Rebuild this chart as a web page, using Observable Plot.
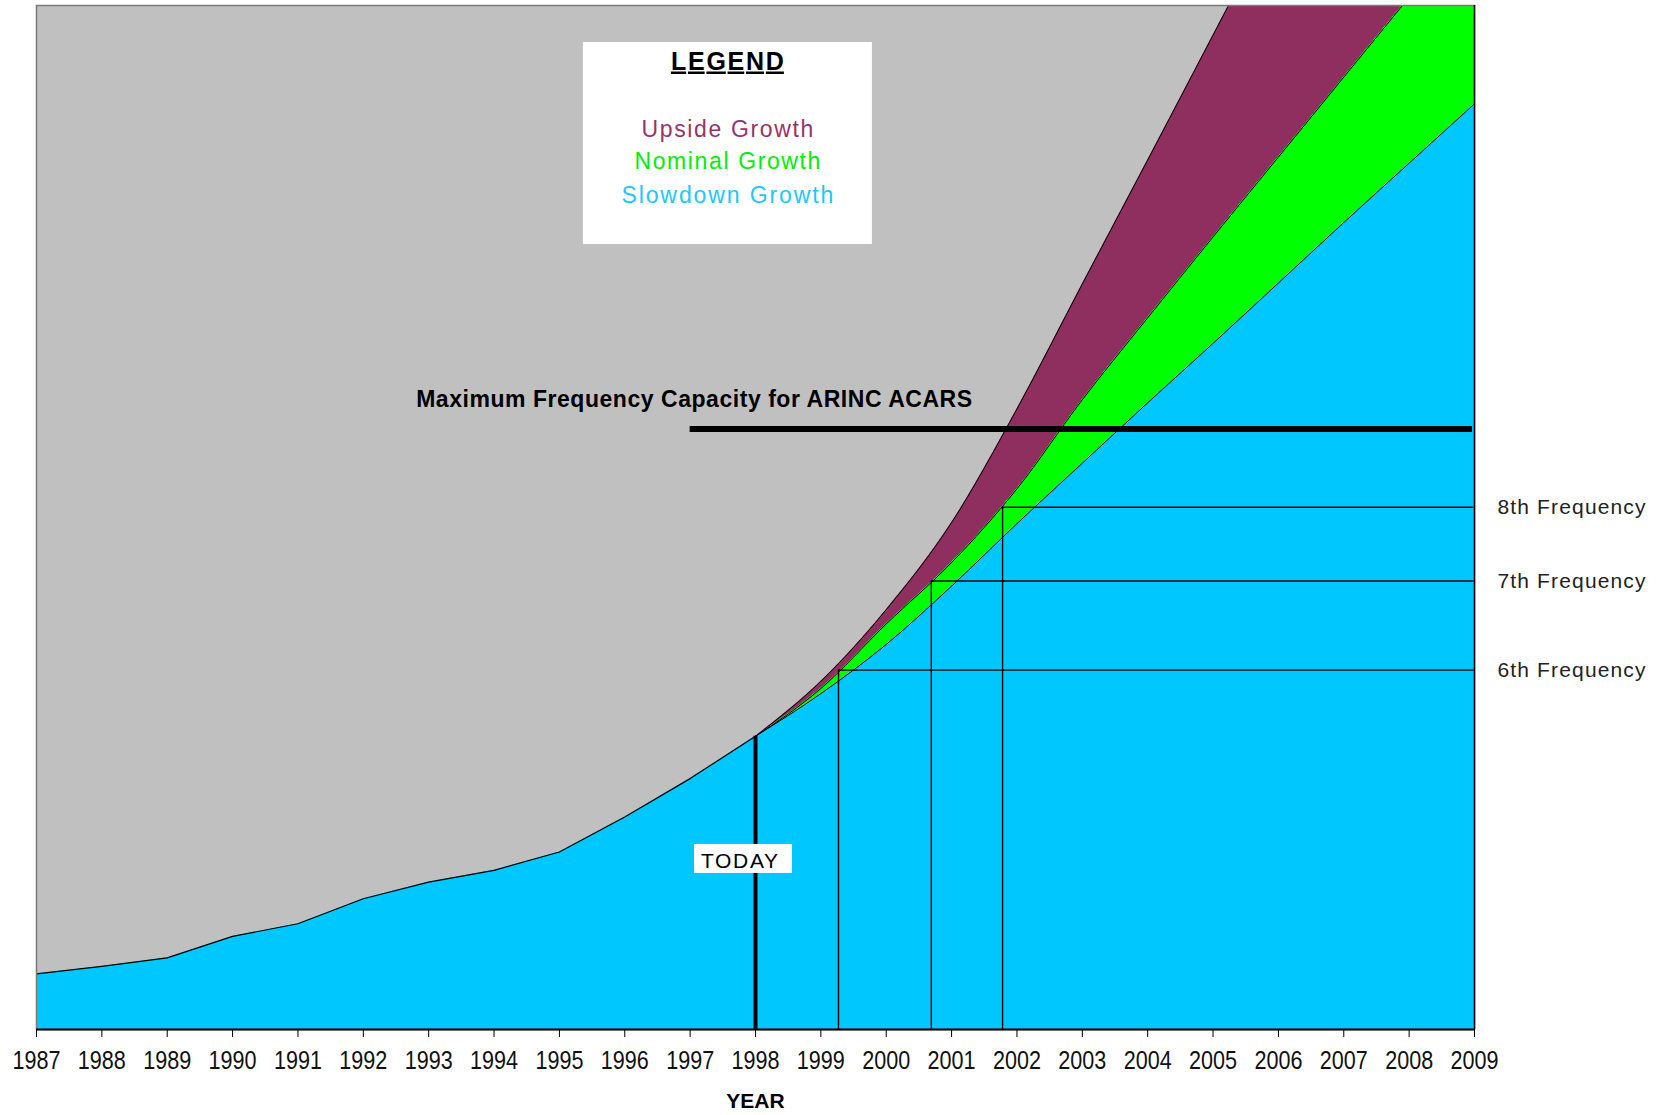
<!DOCTYPE html>
<html>
<head>
<meta charset="utf-8">
<script src="https://cdn.jsdelivr.net/npm/d3@7"></script>
<script src="https://cdn.jsdelivr.net/npm/@observablehq/plot@0.6"></script>
<style>
  html, body { margin: 0; padding: 0; background: #ffffff; }
  #chart svg { display: block; }
</style>
</head>
<body>
<div id="chart"></div>
<script>
// ACARS message traffic: history up to today, then three growth scenarios.
const tickYears = [1987, 1988, 1989, 1990, 1991, 1992, 1993, 1994, 1995, 1996, 1997, 1998,
                   1999, 2000, 2001, 2002, 2003, 2004, 2005, 2006, 2007, 2008, 2009];

const historyYears   = [1987, 1988, 1989, 1990, 1991, 1992, 1993, 1994, 1995, 1996, 1997, 1998];
const historyTraffic = [5.44, 6.16, 7.0, 9.09, 10.33, 12.77, 14.4, 15.54, 17.33, 20.75, 24.5, 28.64];

const projectionYears = [1998, 1999, 2000, 2001, 2002, 2003, 2004, 2005, 2006, 2007, 2008, 2009];
const slowdownGrowth  = [28.64, 32.8, 37.6, 43.3, 49.4, 55.3, 61.2, 67.0, 72.9, 78.8, 84.6, 90.4];
const nominalGrowth   = [28.64, 33.3, 39.6, 45.6, 52.8, 61.5, 69.5, 77.4, 85.2, 93.0, 100.8, 108.6];
const upsideGrowth    = [28.64, 34.0, 41.0, 49.5, 60.6, 72.8, 84.9, 97.1, 109.3, 121.5, 133.7, 145.9];

const frequencyNames  = ["6th Frequency", "7th Frequency", "8th Frequency"];
const frequencyLevels = [35.1, 43.8, 51.0];
const frequencyYears  = [1999.27, 2000.69, 2001.78];

const capacityLabel = "Maximum Frequency Capacity for ARINC ACARS";
const capacityLevel = 58.65;
const capacityFrom  = 1997;

const todayLabel = "TODAY";
const todayYear  = 1998;
const todayLabelLevel = 16.46;

const legendTitle  = "LEGEND";
const legendLabels = ["Upside Growth", "Nominal Growth", "Slowdown Growth"];
const legendCenterYear = 1997.57;

const axisTitle = "YEAR";

// colours
const GRAY = "#c0c0c0", PLUM = "#8e2f5f", GREEN = "#00ff00", SKY = "#00c8ff";
const legendColors = ["#993366", "#00ee00", "#1cc8ff"];

// tables built from the arrays
const history = historyYears.map((year, i) => ({year, value: historyTraffic[i]}));
const projection = projectionYears.map((year, i) => ({
  year, slowdown: slowdownGrowth[i], nominal: nominalGrowth[i], upside: upsideGrowth[i]
}));
const frequencies = frequencyNames.map((name, i) => ({name, level: frequencyLevels[i], year: frequencyYears[i]}));
const lastYear = tickYears[tickYears.length - 1];
const todayValue = historyTraffic[historyYears.indexOf(todayYear)];

const SVGNS = "http://www.w3.org/2000/svg";
function whiteBox(x, y, w, h) {
  const r = document.createElementNS(SVGNS, "rect");
  r.setAttribute("x", x); r.setAttribute("y", y);
  r.setAttribute("width", w); r.setAttribute("height", h);
  r.setAttribute("fill", "#ffffff");
  return r;
}

// white panel behind the legend text
function legendPanel(index, scales, values, dims) {
  const cx = scales.x(legendCenterYear);
  return whiteBox(cx - 144, dims.marginTop + 37, 289, 202);
}
// white panel behind the TODAY label
function todayPanel(index, scales) {
  const cx = scales.x(todayYear) - 12;
  const cy = scales.y(todayLabelLevel) - 2;
  return whiteBox(cx - 49, cy - 14.5, 98, 29);
}

// one text mark per legend row, stacked below the title
const legendRowOffsets = [124, 156.5, 190];
const legendMarks = legendLabels.map((label, i) =>
  Plot.text([label], {x: () => legendCenterYear, frameAnchor: "top", text: d => d, dy: legendRowOffsets[i],
    lineAnchor: "middle", fontSize: 23, fill: legendColors[i]})
);

const curve = "monotone-x";
const FONT = "Liberation Sans, Arial, sans-serif";

const chart = Plot.plot({
  width: 1663,
  height: 1115,
  marginLeft: 36,
  marginRight: 189,
  marginTop: 5,
  marginBottom: 86,
  style: {fontFamily: FONT, fontSize: "21px", color: "#000", background: "#ffffff", overflow: "visible"},
  x: {domain: [1987, 2009]},
  y: {domain: [0, 100], axis: null},
  marks: [
    Plot.frame({fill: GRAY}),
    // scenario bands
    Plot.areaY(projection, {x: "year", y1: "nominal", y2: "upside", fill: PLUM, curve, clip: true}),
    Plot.areaY(projection, {x: "year", y1: "slowdown", y2: "nominal", fill: GREEN, curve, clip: true}),
    Plot.areaY(projection, {x: "year", y: "slowdown", fill: SKY, curve, clip: true}),
    Plot.areaY(history, {x: "year", y: "value", fill: SKY}),
    // outlines
    Plot.line(history, {x: "year", y: "value", stroke: "#000", strokeWidth: 1.2}),
    Plot.line(projection, {x: "year", y: "slowdown", stroke: "#000", strokeWidth: 1, curve, clip: true}),
    Plot.line(projection, {x: "year", y: "nominal", stroke: "#000", strokeWidth: 1, curve, clip: true}),
    Plot.line(projection, {x: "year", y: "upside", stroke: "#000", strokeWidth: 1, curve, clip: true}),
    // additional frequencies
    Plot.ruleX(frequencies, {x: "year", y1: () => 0, y2: "level", stroke: "#000", strokeWidth: 1.4}),
    Plot.ruleY(frequencies, {y: "level", x1: "year", x2: () => lastYear, stroke: "#000", strokeWidth: 1.4}),
    Plot.text(frequencies, {x: () => lastYear, y: "level", text: "name", dx: 23, textAnchor: "start",
      lineAnchor: "middle", fontSize: 21, fill: "#222"}),
    // maximum capacity
    Plot.ruleY([capacityLevel], {x1: () => capacityFrom, x2: () => lastYear - 0.03, stroke: "#000", strokeWidth: 6}),
    Plot.text([capacityLabel], {x: () => capacityFrom, y: () => capacityLevel, text: d => d, dx: 4, dy: -29.5,
      lineAnchor: "middle", fontSize: 23, fontWeight: "bold", fill: "#000"}),
    // today marker
    Plot.ruleX([todayYear], {y1: () => 0, y2: () => todayValue, stroke: "#000", strokeWidth: 4}),
    todayPanel,
    Plot.text([todayLabel], {x: () => todayYear, y: () => todayLabelLevel, text: d => d, dx: -16,
      lineAnchor: "middle", fontSize: 21, fill: "#000"}),
    // legend
    legendPanel,
    Plot.text([legendTitle], {x: () => legendCenterYear, frameAnchor: "top", text: d => d, dy: 56,
      lineAnchor: "middle", fontSize: 25, fontWeight: "bold", fill: "#000"}),
    ...legendMarks,
    // plot area border and axis
    Plot.frame({stroke: "#7a7a7a", strokeWidth: 1.5}),
    Plot.ruleX([lastYear], {stroke: "#000", strokeWidth: 1.5}),
    Plot.ruleY([0], {stroke: "#000", strokeWidth: 2}),
    Plot.axisX({ticks: tickYears, tickSize: 8, tickPadding: 13, tickFormat: d => String(d), label: null,
      fontSize: 26}),
    Plot.text([axisTitle], {frameAnchor: "bottom", text: d => d, dy: 71.5, lineAnchor: "middle",
      fontSize: 21, fontWeight: "bold", fill: "#000"})
  ]
});

document.getElementById("chart").appendChild(chart);

// fit labels to their set widths (the lettering is spaced wider, the year digits narrower, than Arial)
const labelWidths = new Map([
  [capacityLabel, [556, "spacing"]],
  [todayLabel, [77, "spacing"]],
  [legendTitle, [113, "spacing"]],
  ["Upside Growth", [172, "spacing"]],
  ["Nominal Growth", [186, "spacing"]],
  ["Slowdown Growth", [212, "spacing"]],
  ...frequencyNames.map(n => [n, [148, "spacing"]]),
  ...tickYears.map(y => [String(y), [48, "spacingAndGlyphs"]])
]);
chart.querySelectorAll("text").forEach(t => {
  const spec = labelWidths.get(t.textContent);
  if (!spec) return;
  t.setAttribute("textLength", spec[0]);
  t.setAttribute("lengthAdjust", spec[1]);
  if (t.textContent === legendTitle) t.setAttribute("text-decoration", "underline");
  if (/^\d{4}$/.test(t.textContent)) t.setAttribute("fill", "#111");
});
</script>
</body>
</html>
